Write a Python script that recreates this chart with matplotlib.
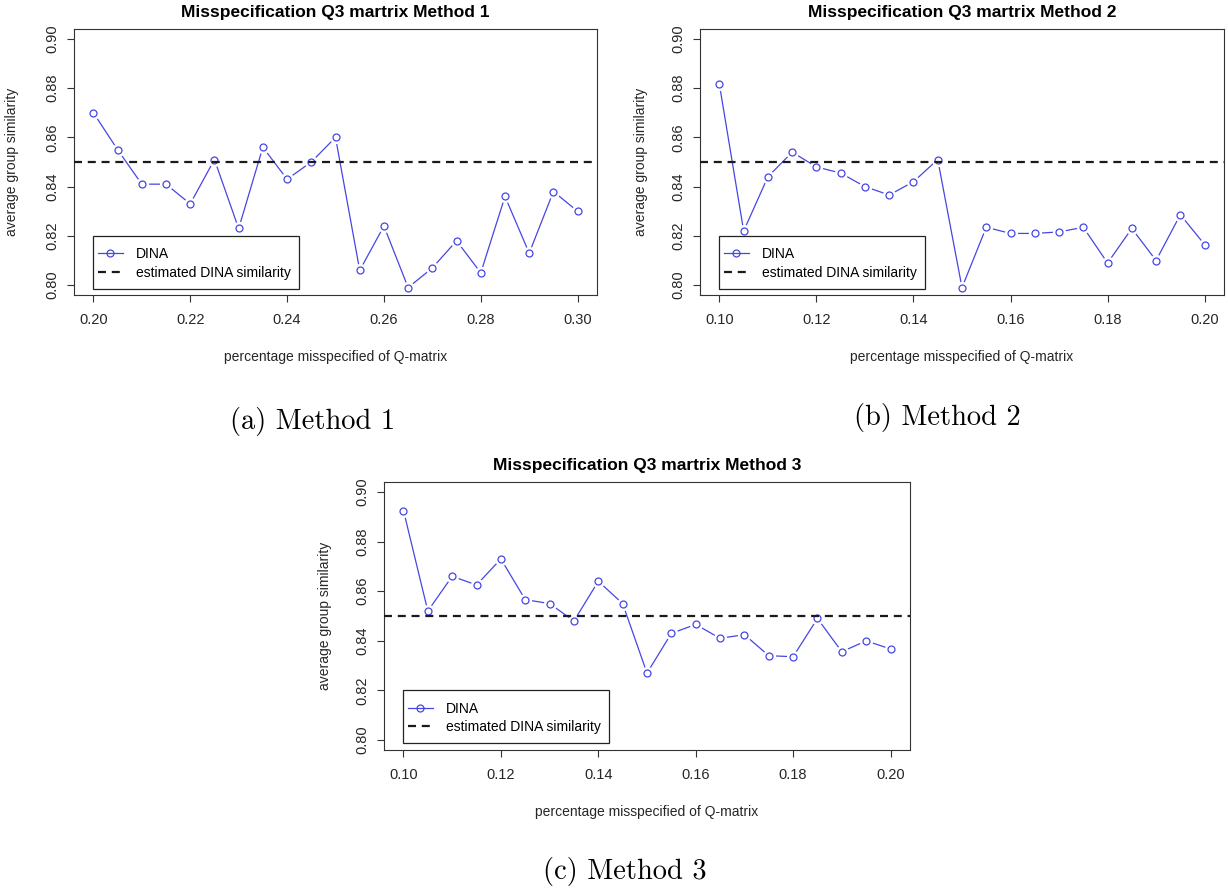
import matplotlib
matplotlib.use("Agg")
import matplotlib.pyplot as plt
from matplotlib.patches import Rectangle

plt.rcParams['font.family'] = ['Liberation Sans', 'DejaVu Sans']

# x values (share of misspecified Q-matrix entries)
x_m1 = [0.200, 0.205, 0.210, 0.215, 0.220, 0.225, 0.230, 0.235, 0.240, 0.245, 0.250,
        0.255, 0.260, 0.265, 0.270, 0.275, 0.280, 0.285, 0.290, 0.295, 0.300]
x_m23 = [0.100, 0.105, 0.110, 0.115, 0.120, 0.125, 0.130, 0.135, 0.140, 0.145, 0.150,
         0.155, 0.160, 0.165, 0.170, 0.175, 0.180, 0.185, 0.190, 0.195, 0.200]

# average group similarity, DINA
dina_m1 = [0.870, 0.855, 0.841, 0.841, 0.833, 0.851, 0.823, 0.856, 0.843, 0.850, 0.860,
           0.806, 0.824, 0.799, 0.807, 0.818, 0.805, 0.836, 0.813, 0.838, 0.830]
dina_m2 = [0.8815, 0.822, 0.844, 0.854, 0.848, 0.8455, 0.840, 0.8366, 0.842, 0.851, 0.799,
           0.8235, 0.821, 0.821, 0.8216, 0.8235, 0.809, 0.823, 0.810, 0.8286, 0.8165]
dina_m3 = [0.8925, 0.852, 0.866, 0.8625, 0.873, 0.8566, 0.855, 0.848, 0.864, 0.855, 0.827,
           0.843, 0.8466, 0.841, 0.8425, 0.834, 0.8336, 0.849, 0.8356, 0.840, 0.8367]

est_sim = 0.85
yticks = [0.80, 0.82, 0.84, 0.86, 0.88, 0.90]
xticks_m1 = [0.20, 0.22, 0.24, 0.26, 0.28, 0.30]
xticks_m23 = [0.10, 0.12, 0.14, 0.16, 0.18, 0.20]

titles = ["Misspecification Q3 martrix Method 1",
          "Misspecification Q3 martrix Method 2",
          "Misspecification Q3 martrix Method 3"]
captions = ["(a) Method 1", "(b) Method 2", "(c) Method 3"]

W, H = 1228, 888
fig = plt.figure(figsize=(W / 100, H / 100), dpi=100)

# axes boxes in pixels: left, top, right, bottom
boxes = [(74, 29, 597, 295), (700, 29, 1224, 295), (384, 482, 910, 750)]
ylab_x = [12, 641, 325]
panels = [(x_m1, dina_m1, xticks_m1), (x_m23, dina_m2, xticks_m23), (x_m23, dina_m3, xticks_m23)]

blue = '#4646e4'
for i, ((l, t, r, b), (xs, ys, xt)) in enumerate(zip(boxes, panels)):
    ax = fig.add_axes([l / W, 1 - b / H, (r - l) / W, (b - t) / H])
    ax.plot(xs, ys, '-o', color=blue, lw=0.9, ms=5, mfc='none', mec=blue, mew=0.9,
            label='DINA', zorder=2)
    # white halos so the line stops short of each point (R type="b")
    ax.plot(xs, ys, 'o', ms=8.5, mfc='white', mec='white', zorder=2.1)
    ax.plot(xs, ys, 'o', ms=5, mfc='none', mec=blue, mew=0.9, zorder=2.2)
    ax.axhline(est_sim, color='#1a1a1a', lw=1.6, dashes=(3.6, 2.6),
               label='estimated DINA similarity', zorder=3)

    span = xs[-1] - xs[0]
    ax.set_xlim(xs[0] - 0.04 * span, xs[-1] + 0.04 * span)
    ax.set_ylim(0.796, 0.904)
    ax.set_xticks(xt)
    ax.set_xticklabels(['%.2f' % v for v in xt])
    ax.set_yticks(yticks)
    ax.set_yticklabels(['%.2f' % v for v in yticks], rotation=90, va='center')
    ax.tick_params(axis='both', direction='out', length=5, width=0.8, colors='#333333',
                   labelsize=10.5, labelcolor='#262626')
    ax.tick_params(axis='x', pad=8)
    ax.tick_params(axis='y', pad=5.5)
    for s in ax.spines.values():
        s.set_color('#333333')
        s.set_linewidth(0.8)

    ax.set_title(titles[i], fontsize=12.5, fontweight='bold', pad=8.5)
    ax.set_xlabel('percentage misspecified of Q-matrix', fontsize=10, color='#262626')
    ax.xaxis.set_label_coords(0.5, -62 / (b - t))
    ax.xaxis.label.set_va('center')
    ax.set_ylabel('average group similarity', fontsize=10, color='#262626')
    ax.yaxis.set_label_coords((ylab_x[i] - l) / (r - l), 0.5)
    ax.yaxis.label.set_va('center')

    # legend box (R style: tight sides, roomier top/bottom)
    px_x = (ax.get_xlim()[1] - ax.get_xlim()[0]) / (r - l)
    px_y = (0.904 - 0.796) / (b - t)
    ax.add_patch(Rectangle((xs[0], 0.82 - 53 * px_y), 206 * px_x, 53 * px_y,
                           fill=True, fc='white', ec='#222222', lw=0.9, zorder=4))
    leg = ax.legend(loc='upper left', bbox_to_anchor=(xs[0], 0.82 - 7 * px_y),
                    bbox_transform=ax.transData, fontsize=10, frameon=False,
                    handlelength=1.85, handletextpad=0.9, borderpad=0.3, labelspacing=0.32,
                    borderaxespad=0)
    leg.set_zorder(5)

# subfigure captions
cap_pos = [(313, 422), (937, 418), (625, 871)]
for txt, (cx, cy) in zip(captions, cap_pos):
    fig.text(cx / W, 1 - cy / H, txt, fontsize=20.5, family='cmr10', ha='center', va='center')

fig.savefig('out.png', dpi=100)
